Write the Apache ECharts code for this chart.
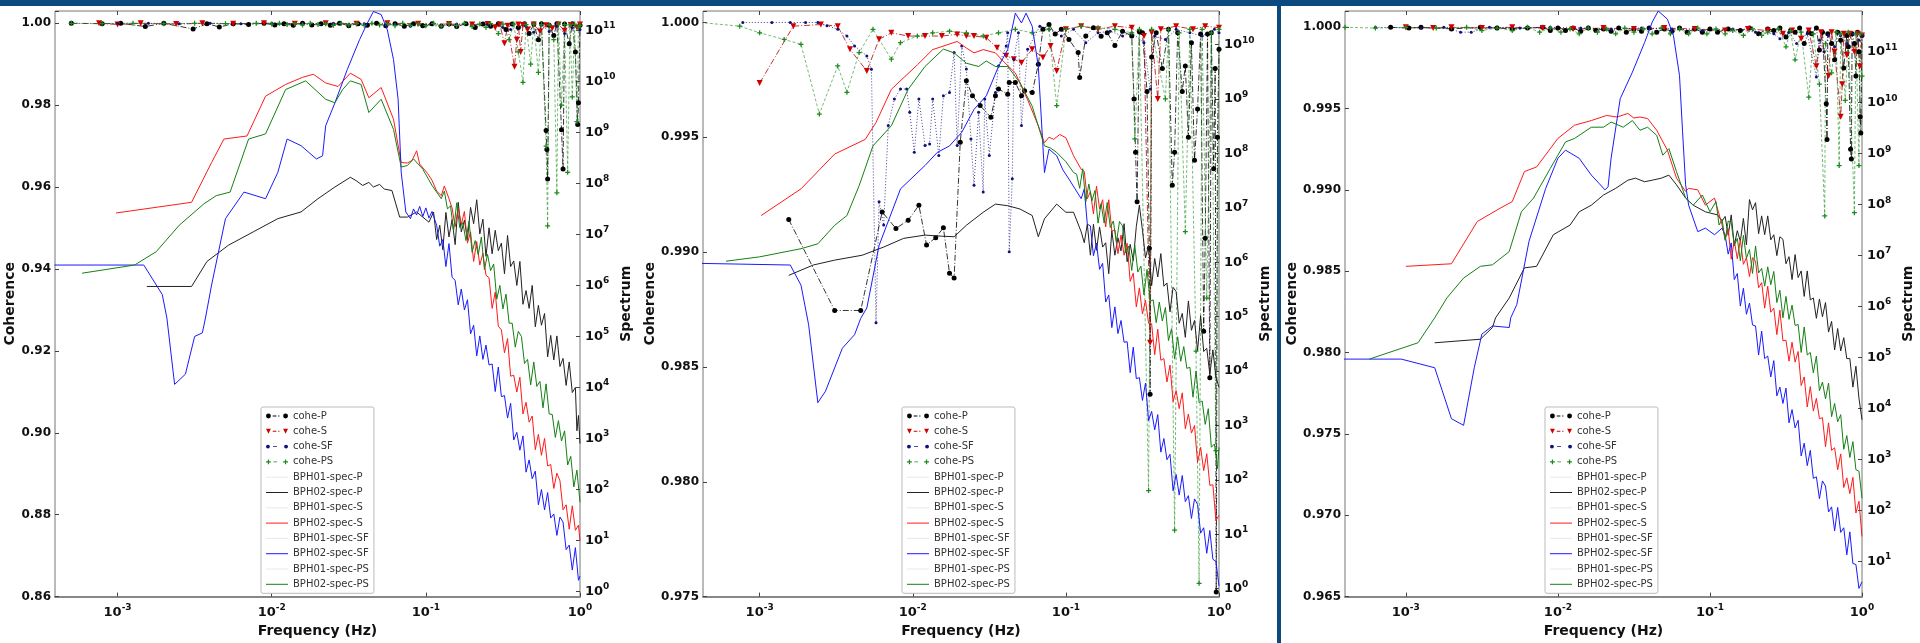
<!DOCTYPE html>
<html><head><meta charset="utf-8">
<script src="https://cdn.jsdelivr.net/npm/echarts@6/dist/echarts.min.js"></script>
<style>html,body{margin:0;padding:0;background:#fff}#c{width:1920px;height:643px}</style>
</head><body><div id="c"></div>
<script>
// ---------- DATA (frequency and spectrum stored as log10 exponents) ----------
const xTickValues = [1e-3, 1e-2, 1e-1, 1];
const specTickValues = [1e0,1e1,1e2,1e3,1e4,1e5,1e6,1e7,1e8,1e9,1e10,1e11];
const legendNames = ['cohe-P','cohe-S','cohe-SF','cohe-PS','BPH01-spec-P','BPH02-spec-P','BPH01-spec-S','BPH02-spec-S','BPH01-spec-SF','BPH02-spec-SF','BPH01-spec-PS','BPH02-spec-PS'];

// Panel 1 spectra [log10 f, log10 S]
const p1SpecP = [[-2.81,5.98],[-2.52,5.98],[-2.42,6.47],[-2.28,6.79],[-2.12,7.05],[-1.96,7.31],[-1.81,7.44],[-1.70,7.70],[-1.59,7.93],[-1.49,8.12],[-1.45,8.05],[-1.41,7.96],[-1.37,8.02],[-1.34,7.93],[-1.30,7.98],[-1.27,7.89],[-1.22,7.86],[-1.17,7.34],[-1.12,7.34],[-1.06,7.44],[-0.98,7.24],
[-0.95,7.44],[-0.93,6.90],[-0.91,7.18],[-0.89,6.70],[-0.87,7.43],[-0.85,6.95],[-0.83,7.29],[-0.81,6.80],[-0.79,7.63],[-0.77,7.05],[-0.75,7.28],[-0.73,6.90],[-0.71,7.53],[-0.69,7.21],[-0.67,7.68],[-0.65,7.01],[-0.63,7.30],[-0.61,6.57],[-0.59,7.13],[-0.57,6.62],[-0.55,7.08],[-0.53,6.68],[-0.51,6.83],[-0.49,6.23],[-0.47,6.98],[-0.45,6.37],[-0.43,6.48],[-0.41,6.00],[-0.39,6.47],[-0.37,5.63],[-0.35,5.90],[-0.33,5.55],[-0.31,6.00],[-0.29,5.19],[-0.27,5.61],[-0.25,5.22],[-0.23,5.45],[-0.21,4.60],[-0.19,5.02],[-0.17,4.54],[-0.15,5.01],[-0.13,4.41],[-0.11,4.57],[-0.09,4.04],[-0.07,4.50],[-0.05,3.90],[-0.03,4.00],[-0.02,3.15],[-0.01,3.45],[0.00,2.90]];
const p1SpecS = [[-3.01,7.42],[-2.52,7.63],[-2.39,8.41],[-2.31,8.87],[-2.16,8.93],[-2.04,9.71],[-1.91,9.94],[-1.80,10.08],[-1.73,10.14],[-1.65,9.97],[-1.57,9.90],[-1.49,10.16],[-1.42,10.04],[-1.37,9.68],[-1.29,9.88],[-1.21,9.26],[-1.16,8.41],[-1.12,8.40],[-1.09,8.45],[-1.06,8.64],[-1.04,8.38],[-0.99,8.20],[-0.96,8.06],[-0.93,7.85],[-0.90,7.76],[-0.88,7.95],[-0.85,7.70],
[-0.83,7.52],[-0.81,7.15],[-0.79,7.52],[-0.77,7.20],[-0.75,7.45],[-0.73,6.83],[-0.71,7.05],[-0.69,6.47],[-0.67,6.86],[-0.65,6.40],[-0.63,6.63],[-0.61,6.20],[-0.59,6.15],[-0.57,5.55],[-0.55,5.87],[-0.53,5.20],[-0.51,5.13],[-0.49,4.68],[-0.47,4.96],[-0.45,4.22],[-0.43,4.24],[-0.41,3.91],[-0.39,4.20],[-0.37,3.48],[-0.35,3.71],[-0.33,3.32],[-0.31,3.44],[-0.29,2.78],[-0.27,3.08],[-0.25,2.67],[-0.23,3.00],[-0.21,2.46],[-0.19,2.49],[-0.17,2.02],[-0.15,2.32],[-0.13,2.17],[-0.11,1.60],[-0.09,1.70],[-0.07,1.22],[-0.05,1.68],[-0.03,1.20],[-0.01,1.30],[0.00,1.00]];
const p1SpecSF = [[-3.41,6.40],[-2.83,6.40],[-2.71,5.82],[-2.68,5.36],[-2.63,4.06],[-2.56,4.26],[-2.50,5.00],[-2.45,5.07],[-2.43,5.36],[-2.39,6.01],[-2.30,7.31],[-2.18,7.83],[-2.04,7.70],[-1.96,8.22],[-1.90,8.87],[-1.81,8.74],[-1.71,8.48],[-1.67,8.54],[-1.65,9.13],[-1.59,9.58],[-1.51,10.23],[-1.43,10.82],[-1.38,11.14],[-1.34,11.37],[-1.29,11.31],[-1.25,11.01],[-1.21,10.43],[-1.18,9.65],[-1.16,8.22],[-1.13,7.44],[-1.10,7.31],[-1.08,7.50],[-1.06,7.38],[-1.04,7.55],[-1.02,7.35],[-1.00,7.52],[-0.98,7.32],[-0.96,7.45],[-0.93,7.18],
[-0.91,6.77],[-0.89,6.90],[-0.87,6.37],[-0.85,6.82],[-0.83,6.16],[-0.81,6.10],[-0.79,5.62],[-0.77,5.93],[-0.75,5.52],[-0.73,5.72],[-0.71,5.05],[-0.69,5.22],[-0.67,4.62],[-0.65,5.01],[-0.63,4.55],[-0.61,4.83],[-0.59,4.44],[-0.57,4.46],[-0.55,3.92],[-0.53,4.40],[-0.51,3.82],[-0.49,3.84],[-0.47,3.40],[-0.45,3.69],[-0.43,2.97],[-0.41,3.12],[-0.39,2.77],[-0.37,3.05],[-0.35,2.34],[-0.33,2.58],[-0.31,2.21],[-0.29,2.36],[-0.27,1.70],[-0.25,2.00],[-0.23,1.60],[-0.21,1.94],[-0.19,1.44],[-0.17,1.52],[-0.15,1.10],[-0.13,1.46],[-0.11,1.36],[-0.09,0.82],[-0.07,0.91],[-0.05,0.42],[-0.03,0.86],[-0.01,0.22],[0.00,0.30]];
const p1SpecPS = [[-3.23,6.24],[-2.89,6.40],[-2.75,6.66],[-2.60,7.18],[-2.44,7.60],[-2.36,7.76],[-2.27,7.83],[-2.15,8.87],[-2.04,8.97],[-1.91,9.84],[-1.78,10.01],[-1.65,9.65],[-1.59,9.58],[-1.54,9.84],[-1.49,10.01],[-1.42,9.94],[-1.37,9.39],[-1.29,9.65],[-1.21,9.06],[-1.16,8.32],[-1.12,8.35],[-1.08,8.48],[-1.02,8.28],[-0.96,7.96],[-0.90,7.70],
[-0.88,7.85],[-0.86,7.50],[-0.84,7.56],[-0.82,7.07],[-0.80,7.62],[-0.78,7.13],[-0.76,7.23],[-0.74,6.88],[-0.72,7.26],[-0.70,6.65],[-0.68,6.88],[-0.66,6.60],[-0.64,6.95],[-0.62,6.31],[-0.60,6.61],[-0.58,6.29],[-0.56,6.42],[-0.54,5.73],[-0.52,6.00],[-0.50,5.54],[-0.48,5.83],[-0.46,5.26],[-0.44,5.26],[-0.42,4.79],[-0.40,5.10],[-0.38,5.00],[-0.36,4.47],[-0.34,4.55],[-0.32,4.05],[-0.30,4.50],[-0.28,4.02],[-0.26,4.12],[-0.24,3.60],[-0.22,4.07],[-0.20,3.48],[-0.18,3.47],[-0.16,3.02],[-0.14,3.35],[-0.12,2.95],[-0.10,3.15],[-0.08,2.48],[-0.06,2.65],[-0.04,2.05],[-0.02,2.38],[0.00,1.75]];

// Panel 1 coherence [log10 f, coherence]
const p1CoheP = [[-3.30,1.0000],[-3.10,0.9999],[-2.98,1.0000],[-2.82,0.9992],[-2.70,1.0000],[-2.51,0.9986],[-2.42,0.9999],[-2.34,0.9991],[-2.25,0.9999],[-2.15,0.9997],[-2.05,1.0000],[-1.98,0.9996],[-1.92,0.9999],[-1.86,0.9995],[-1.80,1.0000],[-1.74,0.9996],[-1.68,0.9999],[-1.62,0.9995],[-1.56,1.0000],[-1.50,0.9994],[-1.44,0.9999],[-1.38,0.9995],[-1.32,1.0000],[-1.26,0.9994],[-1.20,0.9999],[-1.14,0.9993],[-1.08,0.9999],[-1.02,0.9994],[-0.96,0.9999],[-0.90,0.9993],[-0.85,0.9998],[-0.80,0.9992],[-0.74,0.9999],[-0.68,0.9990],[-0.63,0.9998],[-0.58,0.9993],[-0.53,0.9999],[-0.48,0.9985],[-0.44,0.9998],[-0.40,0.9990],[-0.36,0.9999],[-0.33,0.9975],[-0.30,0.9998],[-0.27,0.9960],[-0.25,0.9999],[-0.22,0.9738],[-0.215,0.9692],[-0.21,0.9620],[-0.20,0.9995],[-0.17,0.9970],[-0.15,0.9999],[-0.12,0.9740],[-0.11,0.9644],[-0.10,0.9998],[-0.07,0.9950],[-0.05,0.9999],[-0.03,0.9930],[-0.015,0.9753],[-0.01,0.9806],[0.00,0.9995]];
const p1CoheS = [[-3.12,1.0000],[-3.00,0.9997],[-2.85,1.0000],[-2.62,0.9998],[-2.45,1.0000],[-2.25,0.9999],[-2.05,1.0000],[-1.85,0.9999],[-1.65,1.0000],[-1.45,0.9999],[-1.25,1.0000],[-1.05,0.9999],[-0.85,0.9998],[-0.70,0.9997],[-0.60,0.9998],[-0.55,0.9990],[-0.52,0.9997],[-0.49,0.9951],[-0.47,0.9994],[-0.425,0.9894],[-0.41,0.9960],[-0.40,0.9997],[-0.385,0.9930],[-0.37,0.9996],[-0.34,0.9985],[-0.30,0.9997],[-0.26,0.9980],[-0.22,0.9995],[-0.18,0.9988],[-0.14,0.9997],[-0.10,0.9982],[-0.06,0.9996],[-0.02,0.9990],[0.00,0.9997]];
const p1CoheSF = [[-3.00,1.0000],[-2.80,1.0000],[-2.60,0.9999],[-2.40,1.0000],[-2.20,0.9999],[-2.00,1.0000],[-1.80,0.9999],[-1.60,1.0000],[-1.40,0.9999],[-1.20,0.9997],[-1.10,0.9993],[-1.00,0.9995],[-0.90,0.9993],[-0.80,0.9998],[-0.60,0.9997],[-0.50,0.9990],[-0.45,0.9985],[-0.35,0.9993],[-0.30,0.9978],[-0.25,0.9995],[-0.20,0.9980],[-0.15,0.9993],[-0.10,0.9975],[-0.05,0.9990],[0.00,0.9985]];
const p1CohePS = [[-3.30,1.0000],[-3.10,0.9999],[-2.90,1.0000],[-2.70,0.9999],[-2.50,1.0000],[-2.30,0.9999],[-2.10,1.0000],[-2.00,0.9998],[-1.95,1.0000],[-1.90,0.9997],[-1.85,0.9999],[-1.80,0.9996],[-1.75,1.0000],[-1.70,0.9997],[-1.65,0.9999],[-1.60,0.9995],[-1.55,1.0000],[-1.50,0.9996],[-1.45,0.9999],[-1.40,0.9995],[-1.35,1.0000],[-1.30,0.9996],[-1.25,0.9999],[-1.20,0.9994],[-1.15,1.0000],[-1.10,0.9995],[-1.05,0.9999],[-1.00,0.9994],[-0.95,1.0000],[-0.90,0.9993],[-0.85,0.9999],[-0.80,0.9994],[-0.75,1.0000],[-0.70,0.9992],[-0.65,0.9998],[-0.61,0.9990],[-0.58,0.9999],[-0.53,0.9975],[-0.50,0.9998],[-0.46,0.9960],[-0.43,0.9998],[-0.40,0.9930],[-0.37,0.9856],[-0.35,0.9997],[-0.32,0.9900],[-0.30,0.9998],[-0.27,0.9880],[-0.25,0.9997],[-0.22,0.9700],[-0.21,0.9505],[-0.20,0.9996],[-0.17,0.9960],[-0.15,0.9586],[-0.14,0.9998],[-0.12,0.9800],[-0.10,0.9997],[-0.08,0.9636],[-0.065,0.9996],[-0.05,0.9820],[-0.035,0.9998],[-0.02,0.9760],[-0.01,0.9990],[0.00,0.9995]];

// Panel 2 spectra
const p2SpecP = [[-2.81,5.76],[-2.65,5.95],[-2.51,6.04],[-2.33,6.13],[-2.19,6.28],[-2.06,6.44],[-1.92,6.50],[-1.81,6.48],[-1.73,6.47],[-1.65,6.68],[-1.54,6.92],[-1.46,7.07],[-1.38,7.04],[-1.30,6.98],[-1.22,6.86],[-1.18,6.47],[-1.14,6.80],[-1.06,7.07],[-1.00,6.92],[-0.95,6.92],[-0.90,6.56],
[-0.88,6.36],[-0.86,6.70],[-0.84,6.13],[-0.82,6.70],[-0.80,6.22],[-0.78,6.65],[-0.76,6.28],[-0.74,6.36],[-0.72,5.79],[-0.70,6.58],[-0.68,6.13],[-0.66,6.45],[-0.64,6.21],[-0.62,6.71],[-0.60,6.01],[-0.58,6.33],[-0.56,6.03],[-0.54,6.66],[-0.52,7.05],[-0.50,6.59],[-0.48,6.08],[-0.46,6.31],[-0.44,5.57],[-0.42,6.07],[-0.40,5.73],[-0.38,6.16],[-0.36,5.56],[-0.34,5.62],[-0.32,5.09],[-0.30,5.54],[-0.28,5.46],[-0.26,4.88],[-0.24,5.06],[-0.22,4.62],[-0.20,5.29],[-0.18,4.75],[-0.16,4.93],[-0.14,4.38],[-0.12,5.02],[-0.10,4.36],[-0.08,4.42],[-0.06,3.94],[-0.04,4.39],[-0.02,3.89],[0.00,3.70]];
const p2SpecS = [[-2.99,6.86],[-2.73,7.35],[-2.51,7.99],[-2.31,8.26],[-2.24,8.57],[-2.14,9.18],[-1.97,9.63],[-1.87,9.91],[-1.71,10.06],[-1.65,9.94],[-1.60,9.85],[-1.54,9.91],[-1.46,9.85],[-1.41,9.70],[-1.33,9.48],[-1.25,8.99],[-1.18,8.51],[-1.14,8.20],[-1.11,8.30],[-1.08,8.26],[-1.04,8.35],[-1.00,8.29],[-0.95,7.96],[-0.90,7.71],
[-0.88,7.67],[-0.86,7.17],[-0.84,7.30],[-0.82,6.89],[-0.80,7.40],[-0.78,6.98],[-0.76,7.15],[-0.74,6.65],[-0.72,7.15],[-0.70,6.57],[-0.68,6.60],[-0.66,6.16],[-0.64,6.50],[-0.62,6.13],[-0.60,6.35],[-0.58,5.65],[-0.56,5.80],[-0.54,5.18],[-0.52,5.53],[-0.50,5.05],[-0.48,5.30],[-0.46,4.88],[-0.44,4.87],[-0.42,4.30],[-0.40,4.77],[-0.38,4.20],[-0.36,4.23],[-0.34,3.80],[-0.32,4.11],[-0.30,3.44],[-0.28,3.64],[-0.26,3.31],[-0.24,3.60],[-0.22,2.94],[-0.20,3.21],[-0.18,2.86],[-0.16,3.00],[-0.14,2.32],[-0.12,2.60],[-0.10,2.17],[-0.08,2.48],[-0.06,1.90],[-0.04,1.91],[-0.02,1.25],[0.00,1.35]];
const p2SpecSF = [[-3.39,5.98],[-2.80,5.95],[-2.73,5.58],[-2.68,4.85],[-2.62,3.42],[-2.57,3.63],[-2.46,4.42],[-2.38,4.67],[-2.34,4.97],[-2.30,5.16],[-2.22,6.31],[-2.08,7.35],[-1.92,7.78],[-1.84,8.02],[-1.76,8.14],[-1.68,8.39],[-1.60,8.81],[-1.52,9.06],[-1.44,9.60],[-1.38,9.91],[-1.33,10.58],[-1.29,10.40],[-1.26,10.58],[-1.22,10.34],[-1.18,9.60],[-1.14,7.65],[-1.11,8.08],[-1.06,7.96],[-1.02,7.70],[-0.98,7.53],[-0.94,7.35],[-0.90,7.17],
[-0.88,7.35],[-0.86,6.70],[-0.84,6.67],[-0.82,6.12],[-0.80,6.35],[-0.78,5.87],[-0.76,5.98],[-0.74,5.27],[-0.72,5.40],[-0.70,4.80],[-0.68,5.18],[-0.66,4.69],[-0.64,4.93],[-0.62,4.53],[-0.60,4.54],[-0.58,3.97],[-0.56,4.44],[-0.54,3.86],[-0.52,3.88],[-0.50,3.46],[-0.48,3.78],[-0.46,3.09],[-0.44,3.26],[-0.42,2.92],[-0.40,3.20],[-0.38,2.51],[-0.36,2.76],[-0.34,2.37],[-0.32,2.47],[-0.30,1.80],[-0.28,2.10],[-0.26,1.72],[-0.24,2.08],[-0.22,1.60],[-0.20,1.71],[-0.18,1.29],[-0.16,1.65],[-0.14,1.55],[-0.12,1.02],[-0.10,1.12],[-0.08,0.65],[-0.06,1.07],[-0.04,0.54],[-0.02,0.50],[0.00,0.05]];
const p2SpecPS = [[-3.22,6.02],[-3.00,6.10],[-2.73,6.25],[-2.62,6.34],[-2.51,6.68],[-2.43,6.86],[-2.35,7.41],[-2.26,8.14],[-2.14,8.51],[-2.03,9.18],[-1.92,9.60],[-1.80,9.92],[-1.73,9.85],[-1.65,9.66],[-1.57,9.60],[-1.52,9.70],[-1.46,9.60],[-1.38,9.60],[-1.30,9.30],[-1.22,8.87],[-1.14,8.14],[-1.10,8.10],[-1.06,8.02],[-1.00,7.85],[-0.95,7.65],
[-0.93,7.62],[-0.91,7.36],[-0.89,7.72],[-0.87,7.11],[-0.85,7.44],[-0.83,7.13],[-0.81,7.32],[-0.79,6.72],[-0.77,7.08],[-0.75,6.72],[-0.73,7.10],[-0.71,6.64],[-0.69,6.76],[-0.67,6.36],[-0.65,6.75],[-0.63,6.67],[-0.61,6.17],[-0.59,6.30],[-0.57,5.85],[-0.55,6.31],[-0.53,5.82],[-0.51,5.93],[-0.49,5.40],[-0.47,5.87],[-0.45,5.28],[-0.43,5.31],[-0.41,4.89],[-0.39,5.27],[-0.37,4.92],[-0.35,5.17],[-0.33,4.56],[-0.31,4.78],[-0.29,4.22],[-0.27,4.63],[-0.25,4.18],[-0.23,4.45],[-0.21,4.05],[-0.19,4.07],[-0.17,3.52],[-0.15,4.00],[-0.13,3.42],[-0.11,3.45],[-0.09,3.02],[-0.07,3.31],[-0.05,2.60],[-0.03,2.66],[-0.01,2.21],[0.00,2.60]];

// Panel 2 coherence
const p2CoheP = [[-2.81,0.99142],[-2.51,0.98746],[-2.34,0.98746],[-2.20,0.99175],[-2.11,0.99103],[-2.03,0.99139],[-1.96,0.99204],[-1.91,0.99031],[-1.85,0.99063],[-1.80,0.99106],[-1.76,0.98908],[-1.73,0.98887],[-1.69,0.99479],[-1.65,0.99746],[-1.61,0.99681],[-1.56,0.99638],[-1.49,0.99587],[-1.46,0.99681],[-1.44,0.99710],[-1.38,0.99688],[-1.37,0.99739],[-1.33,0.99739],[-1.29,0.99681],[-1.27,0.99703],[-1.22,0.99695],[-1.18,0.99818],[-1.15,0.99970],[-1.11,0.99991],[-1.07,0.99950],[-1.03,0.99970],[-0.98,0.99926],[-0.92,0.99869],[-0.91,0.99760],[-0.87,0.99941],[-0.82,0.99977],[-0.77,0.99940],[-0.73,0.99955],[-0.68,0.99900],[-0.63,0.99962],[-0.57,0.99941],[-0.555,0.99667],[-0.545,0.99435],[-0.535,0.99219],[-0.52,0.99960],[-0.50,0.99955],[-0.47,0.99700],[-0.455,0.99017],[-0.45,0.98381],[-0.44,0.99850],[-0.41,0.99955],[-0.37,0.99800],[-0.33,0.99970],[-0.305,0.99291],[-0.29,0.99435],[-0.27,0.99955],[-0.24,0.99700],[-0.22,0.99811],[-0.20,0.99500],[-0.18,0.99912],[-0.16,0.99400],[-0.14,0.99623],[-0.12,0.99950],[-0.10,0.98655],[-0.09,0.99060],[-0.075,0.99950],[-0.06,0.98453],[-0.05,0.99955],[-0.035,0.99363],[-0.025,0.99800],[-0.018,0.97520],[-0.01,0.99500],[0.00,0.99883]];
const p2CoheS = [[-3.00,0.99736],[-2.78,0.99984],[-2.60,0.99991],[-2.49,0.99984],[-2.41,0.99883],[-2.30,0.99789],[-2.22,0.99927],[-2.14,0.99955],[-2.03,0.99941],[-1.92,0.99941],[-1.81,0.99941],[-1.71,0.99948],[-1.65,0.99941],[-1.60,0.99941],[-1.52,0.99934],[-1.45,0.99890],[-1.39,0.99855],[-1.34,0.99840],[-1.29,0.99825],[-1.22,0.99883],[-1.15,0.99847],[-1.10,0.99898],[-1.06,0.99789],[-1.00,0.99970],[-0.90,0.99984],[-0.79,0.99970],[-0.68,0.99984],[-0.57,0.99977],[-0.49,0.99941],[-0.45,0.98605],[-0.44,0.99955],[-0.40,0.99667],[-0.38,0.99970],[-0.28,0.99984],[-0.17,0.99970],[-0.09,0.99984],[0.00,0.99977]];
const p2CoheSF = [[-3.11,1.00000],[-2.92,1.00000],[-2.80,1.00000],[-2.70,1.00000],[-2.62,1.00000],[-2.56,0.99986],[-2.49,0.99970],[-2.43,0.99941],[-2.38,0.99898],[-2.30,0.99854],[-2.27,0.99796],[-2.24,0.98692],[-2.22,0.99219],[-2.19,0.99118],[-2.16,0.99551],[-2.12,0.99667],[-2.08,0.99710],[-2.04,0.99710],[-2.02,0.99609],[-1.99,0.99435],[-1.96,0.99667],[-1.92,0.99464],[-1.89,0.99471],[-1.87,0.99667],[-1.83,0.99421],[-1.80,0.99681],[-1.76,0.99695],[-1.73,0.99869],[-1.71,0.99464],[-1.68,0.99898],[-1.65,0.99797],[-1.62,0.99493],[-1.60,0.99291],[-1.57,0.99609],[-1.54,0.99262],[-1.53,0.99667],[-1.50,0.99421],[-1.46,0.99695],[-1.44,0.99811],[-1.39,0.99898],[-1.38,0.99955],[-1.37,0.99002],[-1.35,0.99320],[-1.34,0.99840],[-1.31,0.99955],[-1.29,0.99551],[-1.25,0.99883],[-1.17,0.99984],[-1.11,0.99970],[-1.03,0.99941],[-0.95,0.99970],[-0.87,0.99912],[-0.79,0.99955],[-0.71,0.99962],[-0.63,0.99941],[-0.57,0.99955],[-0.49,0.99912],[-0.45,0.99710],[-0.42,0.99941],[-0.35,0.99926],[-0.28,0.99970],[-0.19,0.99955],[-0.11,0.99941],[-0.03,0.99970],[0.00,0.99955]];
const p2CohePS = [[-3.39,1.00000],[-3.13,0.99984],[-3.00,0.99955],[-2.84,0.99926],[-2.73,0.99905],[-2.61,0.99601],[-2.49,0.99811],[-2.43,0.99696],[-2.35,0.99869],[-2.26,0.99970],[-2.14,0.99840],[-2.08,0.99912],[-1.97,0.99941],[-1.87,0.99955],[-1.76,0.99962],[-1.65,0.99955],[-1.54,0.99941],[-1.44,0.99955],[-1.33,0.99970],[-1.22,0.99955],[-1.11,0.99970],[-1.06,0.99638],[-1.00,0.99970],[-0.90,0.99984],[-0.79,0.99977],[-0.68,0.99970],[-0.57,0.99955],[-0.55,0.99493],[-0.52,0.99970],[-0.46,0.97962],[-0.44,0.99970],[-0.35,0.99667],[-0.33,0.99970],[-0.29,0.97789],[-0.26,0.99955],[-0.22,0.99089],[-0.19,0.99970],[-0.15,0.98569],[-0.13,0.97558],[-0.11,0.99970],[-0.08,0.98800],[-0.05,0.99955],[-0.02,0.98136],[0.00,0.99970]];

// Panel 3 spectra
const p3SpecP = [[-2.81,5.29],[-2.51,5.36],[-2.43,5.59],[-2.41,5.78],[-2.32,6.17],[-2.22,6.76],[-2.14,6.79],[-2.03,7.41],[-1.92,7.60],[-1.86,7.86],[-1.78,7.99],[-1.70,8.19],[-1.62,8.32],[-1.54,8.48],[-1.49,8.52],[-1.43,8.45],[-1.38,8.48],[-1.32,8.52],[-1.27,8.58],[-1.22,8.39],[-1.16,8.13],[-1.11,7.99],[-1.03,7.86],[-0.95,7.80],
[-0.92,7.68],[-0.90,7.77],[-0.88,7.40],[-0.86,7.80],[-0.84,7.20],[-0.82,7.49],[-0.80,7.28],[-0.78,7.73],[-0.76,7.21],[-0.74,8.10],[-0.72,7.90],[-0.70,8.04],[-0.68,7.43],[-0.66,7.78],[-0.64,7.41],[-0.62,7.78],[-0.60,7.31],[-0.58,7.41],[-0.56,7.00],[-0.54,7.37],[-0.52,7.32],[-0.50,6.84],[-0.48,6.98],[-0.46,6.53],[-0.44,7.02],[-0.42,6.57],[-0.40,6.70],[-0.38,6.20],[-0.36,6.70],[-0.34,6.13],[-0.32,6.17],[-0.30,5.77],[-0.28,6.15],[-0.26,5.80],[-0.24,6.08],[-0.22,5.50],[-0.20,5.71],[-0.18,5.15],[-0.16,5.57],[-0.14,5.13],[-0.12,5.39],[-0.10,4.98],[-0.08,4.98],[-0.06,4.42],[-0.04,4.83],[-0.02,4.20],[0.00,3.78]];
const p3SpecS = [[-3.00,6.79],[-2.70,6.84],[-2.53,7.67],[-2.38,7.93],[-2.30,8.06],[-2.22,8.65],[-2.14,8.74],[-2.00,9.30],[-1.89,9.56],[-1.78,9.65],[-1.68,9.75],[-1.61,9.72],[-1.54,9.79],[-1.50,9.70],[-1.46,9.72],[-1.41,9.69],[-1.35,9.46],[-1.28,9.07],[-1.22,8.52],[-1.16,8.26],[-1.14,8.32],[-1.08,8.29],[-1.03,7.99],[-0.97,8.13],[-0.92,7.60],
[-0.90,7.32],[-0.88,7.53],[-0.86,6.93],[-0.84,7.29],[-0.82,6.94],[-0.80,7.31],[-0.78,6.83],[-0.76,6.96],[-0.74,6.59],[-0.72,6.96],[-0.70,6.89],[-0.68,6.37],[-0.66,6.47],[-0.64,5.97],[-0.62,6.40],[-0.60,5.89],[-0.58,5.97],[-0.56,5.45],[-0.54,5.93],[-0.52,5.33],[-0.50,5.34],[-0.48,4.93],[-0.46,5.30],[-0.44,4.91],[-0.42,5.12],[-0.40,4.45],[-0.38,4.62],[-0.36,4.03],[-0.34,4.43],[-0.32,3.95],[-0.30,4.20],[-0.28,3.80],[-0.26,3.82],[-0.24,3.25],[-0.22,3.72],[-0.20,3.18],[-0.18,3.23],[-0.16,2.80],[-0.14,3.11],[-0.12,2.45],[-0.10,2.64],[-0.08,2.33],[-0.06,2.65],[-0.04,1.95],[-0.02,2.18],[0.00,1.49]];
const p3SpecSF = [[-3.41,4.97],[-3.03,4.97],[-2.81,4.80],[-2.70,3.80],[-2.62,3.67],[-2.55,4.80],[-2.50,5.46],[-2.43,5.62],[-2.32,5.59],[-2.31,5.78],[-2.27,6.04],[-2.19,7.28],[-2.08,8.32],[-2.00,8.91],[-1.95,9.07],[-1.86,8.91],[-1.78,8.58],[-1.73,8.42],[-1.69,8.29],[-1.67,8.35],[-1.65,8.91],[-1.59,10.08],[-1.51,10.60],[-1.43,11.18],[-1.38,11.58],[-1.34,11.80],[-1.28,11.64],[-1.24,11.32],[-1.20,10.53],[-1.18,9.43],[-1.16,8.39],[-1.14,7.99],[-1.08,7.47],[-1.03,7.54],[-0.97,7.41],[-0.92,7.54],
[-0.90,7.40],[-0.88,7.03],[-0.86,7.25],[-0.84,6.53],[-0.82,6.65],[-0.80,6.01],[-0.78,6.36],[-0.76,5.85],[-0.74,6.07],[-0.72,5.64],[-0.70,5.62],[-0.68,5.05],[-0.66,5.52],[-0.64,4.98],[-0.62,5.03],[-0.60,4.62],[-0.58,4.94],[-0.56,4.25],[-0.54,4.42],[-0.52,4.10],[-0.50,4.40],[-0.48,3.72],[-0.46,3.98],[-0.44,3.62],[-0.42,3.77],[-0.40,3.07],[-0.38,3.32],[-0.36,2.88],[-0.34,3.18],[-0.32,2.63],[-0.30,2.66],[-0.28,2.23],[-0.26,2.58],[-0.24,2.48],[-0.22,1.97],[-0.20,2.07],[-0.18,1.60],[-0.16,2.06],[-0.14,1.57],[-0.12,1.66],[-0.10,1.13],[-0.08,1.58],[-0.06,0.96],[-0.04,0.94],[-0.02,0.47],[0.00,0.60]];
const p3SpecPS = [[-3.24,4.97],[-2.92,5.29],[-2.81,5.78],[-2.73,6.17],[-2.62,6.56],[-2.51,6.79],[-2.43,6.82],[-2.32,7.08],[-2.24,7.86],[-2.16,8.13],[-2.05,8.71],[-1.95,9.23],[-1.89,9.30],[-1.78,9.52],[-1.70,9.52],[-1.65,9.62],[-1.57,9.52],[-1.51,9.65],[-1.46,9.46],[-1.41,9.52],[-1.35,9.36],[-1.31,8.97],[-1.27,9.10],[-1.22,8.65],[-1.16,8.13],[-1.11,7.99],[-1.05,8.19],[-1.00,7.86],
[-0.96,8.06],[-0.94,7.60],[-0.92,7.71],[-0.90,7.30],[-0.88,7.68],[-0.86,7.65],[-0.84,7.20],[-0.82,7.34],[-0.80,6.90],[-0.78,7.40],[-0.76,6.95],[-0.74,7.12],[-0.72,6.65],[-0.70,7.19],[-0.68,6.66],[-0.66,6.75],[-0.64,6.40],[-0.62,6.78],[-0.60,6.43],[-0.58,6.69],[-0.56,6.08],[-0.54,6.32],[-0.52,5.78],[-0.50,6.20],[-0.48,5.75],[-0.46,6.03],[-0.44,5.63],[-0.42,5.65],[-0.40,5.10],[-0.38,5.60],[-0.36,5.05],[-0.34,5.10],[-0.32,4.70],[-0.30,5.03],[-0.28,4.35],[-0.26,4.52],[-0.24,4.19],[-0.22,4.50],[-0.20,3.84],[-0.18,4.10],[-0.16,3.74],[-0.14,3.88],[-0.12,3.20],[-0.10,3.47],[-0.08,3.04],[-0.06,3.35],[-0.04,2.80],[-0.02,2.77],[0.00,2.24]];

// Panel 3 coherence
const p3CoheP = [[-3.10,1.0000],[-2.98,0.99995],[-2.90,1.0000],[-2.70,0.9999],[-2.51,1.0000],[-2.40,0.99995],[-2.30,0.9999],[-2.20,0.99995],[-2.10,1.0000],[-2.05,0.9998],[-2.00,0.99995],[-1.95,0.9998],[-1.90,0.99995],[-1.85,0.99975],[-1.80,0.99995],[-1.75,0.9998],[-1.70,0.9999],[-1.65,0.99975],[-1.60,0.99995],[-1.55,0.9997],[-1.50,0.9999],[-1.45,0.99975],[-1.40,0.99995],[-1.35,0.9997],[-1.30,0.9999],[-1.25,0.99975],[-1.20,0.99995],[-1.15,0.9997],[-1.10,0.9999],[-1.05,0.9997],[-1.00,0.9999],[-0.95,0.9997],[-0.88,0.9999],[-0.80,0.9998],[-0.74,0.99995],[-0.68,0.9996],[-0.62,0.9999],[-0.58,0.9998],[-0.54,0.99995],[-0.50,0.9994],[-0.47,0.9998],[-0.44,0.9997],[-0.41,0.99995],[-0.38,0.9990],[-0.35,0.9997],[-0.33,0.9996],[-0.30,0.99995],[-0.28,0.9986],[-0.26,0.9997],[-0.235,0.9953],[-0.23,0.9931],[-0.225,0.9996],[-0.20,0.9990],[-0.18,0.9980],[-0.16,0.9997],[-0.14,0.9992],[-0.12,0.9975],[-0.10,0.9995],[-0.09,0.9988],[-0.075,0.9925],[-0.07,0.9919],[-0.065,0.9996],[-0.05,0.9990],[-0.04,0.9970],[-0.03,0.9997],[-0.02,0.9985],[-0.012,0.9945],[-0.008,0.9935],[0.00,0.9995]];
const p3CoheS = [[-3.00,1.0000],[-2.82,0.99995],[-2.70,1.0000],[-2.50,0.99995],[-2.30,1.0000],[-2.10,0.99995],[-1.90,0.9999],[-1.70,0.99995],[-1.50,0.9999],[-1.30,0.99995],[-1.10,0.9999],[-0.90,0.9998],[-0.75,0.9999],[-0.62,0.9998],[-0.52,0.9996],[-0.46,0.9998],[-0.40,0.9993],[-0.35,0.9998],[-0.30,0.9976],[-0.27,0.9997],[-0.22,0.9970],[-0.20,0.9997],[-0.18,0.9985],[-0.14,0.9945],[-0.13,0.9965],[-0.12,0.9996],[-0.10,0.9983],[-0.08,0.9996],[-0.05,0.9985],[-0.03,0.9996],[-0.014,0.9976],[0.00,0.9995]];
const p3CoheSF = [[-3.20,1.0000],[-2.90,0.99995],[-2.75,1.0000],[-2.64,0.9997],[-2.57,0.9997],[-2.45,1.0000],[-2.25,0.99995],[-2.05,1.0000],[-1.85,0.99995],[-1.65,0.9999],[-1.45,0.99995],[-1.25,0.9999],[-1.05,0.9998],[-0.85,0.9999],[-0.70,0.9997],[-0.58,0.9996],[-0.54,0.9993],[-0.48,0.9997],[-0.43,0.9990],[-0.36,0.9996],[-0.30,0.99695],[-0.28,0.9992],[-0.25,0.9985],[-0.22,0.9995],[-0.18,0.9988],[-0.14,0.9995],[-0.10,0.9990],[-0.06,0.9996],[-0.02,0.9992],[0.00,0.9995]];
const p3CohePS = [[-3.40,1.0000],[-3.20,0.99995],[-3.00,1.0000],[-2.80,0.99995],[-2.60,1.0000],[-2.50,0.9998],[-2.40,0.99995],[-2.30,0.9998],[-2.20,1.0000],[-2.12,0.9997],[-2.05,0.99995],[-1.98,0.9997],[-1.92,0.9999],[-1.86,0.9996],[-1.80,0.99995],[-1.74,0.9997],[-1.68,0.9999],[-1.62,0.9996],[-1.56,0.99995],[-1.50,0.9997],[-1.44,0.9999],[-1.38,0.9996],[-1.32,0.99995],[-1.26,0.9996],[-1.20,0.9999],[-1.14,0.9996],[-1.08,0.99995],[-1.02,0.9996],[-0.96,0.9999],[-0.90,0.9996],[-0.85,0.9998],[-0.78,0.9995],[-0.72,0.9999],[-0.66,0.9995],[-0.62,0.9997],[-0.55,0.9999],[-0.50,0.9988],[-0.47,0.9998],[-0.44,0.9980],[-0.40,0.9997],[-0.35,0.9957],[-0.32,0.9996],[-0.28,0.9965],[-0.245,0.9884],[-0.24,0.9990],[-0.20,0.9972],[-0.17,0.9997],[-0.15,0.9915],[-0.14,0.9996],[-0.11,0.9955],[-0.09,0.9997],[-0.05,0.9886],[-0.04,0.9996],[-0.02,0.9915],[-0.01,0.9996],[0.00,0.9970]];

// ---------- LAYOUT / STYLE ----------
const FONT = 'DejaVu Sans';
const panels = [
  {left:55, width:525, xMinExp:-3.406, cohMin:0.86, cohMax:1.003, cohStep:0.02, cohDec:2, specMinExp:-0.10, specMaxExp:11.38, legendLeft:261, cohGap:35, specGap:37,
   cohe:[p1CoheP,p1CoheS,p1CoheSF,p1CohePS], spec:[p1SpecP,p1SpecS,p1SpecSF,p1SpecPS]},
  {left:703, width:516, xMinExp:-3.37, cohMin:0.975, cohMax:1.0005, cohStep:0.005, cohDec:3, specMinExp:-0.146, specMaxExp:10.62, legendLeft:902, cohGap:45, specGap:37,
   cohe:[p2CoheP,p2CoheS,p2CoheSF,p2CohePS], spec:[p2SpecP,p2SpecS,p2SpecSF,p2SpecPS]},
  {left:1345, width:517, xMinExp:-3.40, cohMin:0.965, cohMax:1.001, cohStep:0.005, cohDec:3, specMinExp:0.31, specMaxExp:11.8, legendLeft:1545, cohGap:45, specGap:39,
   cohe:[p3CoheP,p3CoheS,p3CoheSF,p3CohePS], spec:[p3SpecP,p3SpecS,p3SpecSF,p3SpecPS]}
];
const coheStyles = [
  {name:'cohe-P', color:'#000000', lineColor:'#000000', symbol:'circle', size:5, rotate:0, dash:[6,2,1,2],
   icon:'path://M0,3a2,2 0 1,0 4,0a2,2 0 1,0 -4,0zM5.5,2.6h3v0.8h-3zM10,2.6h1v0.8h-1zM14,3a2,2 0 1,0 4,0a2,2 0 1,0 -4,0z'},
  {name:'cohe-S', color:'#d00000', lineColor:'#b00000', symbol:'triangle', size:6, rotate:180, dash:[6,2,1,2],
   icon:'path://M0,1h4l-2,4zM5.5,2.6h3v0.8h-3zM10,2.6h1v0.8h-1zM14,1h4l-2,4z'},
  {name:'cohe-SF', color:'#10107a', lineColor:'#10107a', symbol:'circle', size:3, rotate:0, dash:[1,2],
   icon:'path://M0.5,3a1.5,1.5 0 1,0 3,0a1.5,1.5 0 1,0 -3,0zM6,2.7h3v0.6h-3zM14.5,3a1.5,1.5 0 1,0 3,0a1.5,1.5 0 1,0 -3,0z'},
  {name:'cohe-PS', color:'#1e8a1e', lineColor:'rgba(40,150,40,0.8)', symbol:'path://M3,0h2v3h3v2h-3v3h-2v-3h-3v-2h3z', size:5, rotate:0, dash:[3,2],
   icon:'path://M1.5,1h1v1.5h1.5v1h-1.5v1.5h-1v-1.5h-1.5v-1h1.5zM6,2.7h3v0.6h-3zM15.5,1h1v1.5h1.5v1h-1.5v1.5h-1v-1.5h-1.5v-1h1.5z'}
];
const specStyles = [
  {name:'BPH02-spec-P', color:'#222222'},
  {name:'BPH02-spec-S', color:'#ff1a1a'},
  {name:'BPH02-spec-SF', color:'#1a1aff'},
  {name:'BPH02-spec-PS', color:'#158015'}
];
const ghostNames = ['BPH01-spec-P','BPH01-spec-S','BPH01-spec-SF','BPH01-spec-PS'];
const lineIcon = 'path://M0,0h44v2h-44z';
const legendData = legendNames.map(n => {
  const c = coheStyles.find(s => s.name === n);
  return {name:n, icon: c ? c.icon : lineIcon};
});

const toXY = arr => arr.map(p => [Math.pow(10, p[0]), Math.pow(10, p[1])]);
const toXC = arr => arr.map(p => [Math.pow(10, p[0]), p[1]]);
const powLabel = v => { const e = Math.round(Math.log10(v)); return '{b|10}{s|' + e + '}'; };
const powRich = {
  b:{fontSize:13, fontWeight:'bold', color:'#111', fontFamily:FONT},
  s:{fontSize:9, fontWeight:'bold', color:'#111', fontFamily:FONT, padding:[0,0,9,0]}
};
const nameStyle = {fontSize:14, fontWeight:'bold', color:'#111', fontFamily:FONT};

const grids = [], xAxes = [], yAxes = [], series = [], legends = [];
panels.forEach((p, i) => {
  grids.push({left:p.left, top:11, width:p.width, height:589, show:true, borderColor:'#777', borderWidth:1, backgroundColor:'transparent'});
  yAxes.push({type:'value', gridIndex:i, position:'left', min:p.cohMin, max:p.cohMax, interval:p.cohStep,
    name:'Coherence', nameLocation:'middle', nameGap:p.cohGap, nameTextStyle:nameStyle,
    axisLine:{show:false}, splitLine:{show:false},
    axisTick:{inside:true, length:4, lineStyle:{color:'#444'}},
    axisLabel:{margin:4, fontSize:12, fontWeight:'bold', color:'#111', fontFamily:FONT,
      formatter: v => (Math.abs(v / p.cohStep - Math.round(v / p.cohStep)) < 1e-6 ? v.toFixed(p.cohDec) : '')}});
  yAxes.push({type:'log', gridIndex:i, position:'right', min:Math.pow(10,p.specMinExp), max:Math.pow(10,p.specMaxExp),
    name:'Spectrum', nameLocation:'middle', nameRotate:90, nameGap:p.specGap, nameTextStyle:nameStyle,
    axisLine:{show:false}, splitLine:{show:false}, minorTick:{show:false},
    axisTick:{inside:true, length:4, customValues:specTickValues, lineStyle:{color:'#444'}},
    axisLabel:{margin:5, customValues:specTickValues, formatter:powLabel, rich:powRich}});
  series.push(...p.cohe.map((arr, k) => ({
    type:'line', name:coheStyles[k].name, xAxisIndex:i, yAxisIndex:2*i, data:toXC(arr),
    symbol:coheStyles[k].symbol, symbolSize:coheStyles[k].size, symbolRotate:coheStyles[k].rotate, showSymbol:true,
    itemStyle:{color:coheStyles[k].color}, lineStyle:{color:coheStyles[k].lineColor, width:0.8, type:coheStyles[k].dash},
    z:2, animation:false, silent:true})));
  series.push(...p.spec.map((arr, k) => ({
    type:'line', name:specStyles[k].name, xAxisIndex:i, yAxisIndex:2*i+1, data:toXY(arr),
    symbol:'none', showSymbol:false, itemStyle:{color:specStyles[k].color},
    lineStyle:{color:specStyles[k].color, width:1}, z:3, animation:false, silent:true})));
  series.push(...ghostNames.map(n => ({type:'line', name:n, xAxisIndex:i, yAxisIndex:2*i+1, data:[], symbol:'none',
    itemStyle:{color:'#e8e8e8'}, lineStyle:{color:'#e8e8e8', width:1, type:'dotted'}, animation:false})));
  legends.push({orient:'vertical', left:p.legendLeft, top:407, itemWidth:22, itemHeight:8, itemGap:5.3,
    padding:[4,5,4,5], backgroundColor:'#fff', borderColor:'#bbb', borderWidth:1, borderRadius:2,
    textStyle:{fontSize:10, color:'#333', fontFamily:FONT}, data:legendData, selectedMode:false, z:10});
});
panels.forEach((p, i) => {
  xAxes.push({type:'log', gridIndex:i, position:'bottom', min:Math.pow(10,p.xMinExp), max:1,
    name:'Frequency (Hz)', nameLocation:'middle', nameGap:23, nameTextStyle:nameStyle,
    axisLine:{show:true, lineStyle:{color:'#888', width:2}}, splitLine:{show:false}, minorTick:{show:false},
    axisTick:{inside:true, length:4, customValues:xTickValues, lineStyle:{color:'#444'}},
    axisLabel:{margin:7, customValues:xTickValues, formatter:powLabel, rich:powRich}});
});
panels.forEach((p, i) => {
  xAxes.push({type:'log', gridIndex:i, position:'top', min:Math.pow(10,p.xMinExp), max:1,
    axisLine:{show:false}, splitLine:{show:false}, minorTick:{show:false}, axisLabel:{show:false},
    axisTick:{inside:true, length:4, customValues:xTickValues, lineStyle:{color:'#444'}}});
});

const chart = echarts.init(document.getElementById('c'), null, {renderer:'canvas'});
chart.setOption({
  animation:false,
  backgroundColor:'#ffffff',
  textStyle:{fontFamily:FONT},
  grid:grids, xAxis:xAxes, yAxis:yAxes, series:series, legend:legends,
  graphic:[
    {type:'rect', shape:{x:0, y:0, width:1920, height:6}, style:{fill:'#0b4a7e'}, z:100},
    {type:'rect', shape:{x:1277, y:0, width:4, height:643}, style:{fill:'#0b4a7e'}, z:100}
  ]
});
</script></body></html>
